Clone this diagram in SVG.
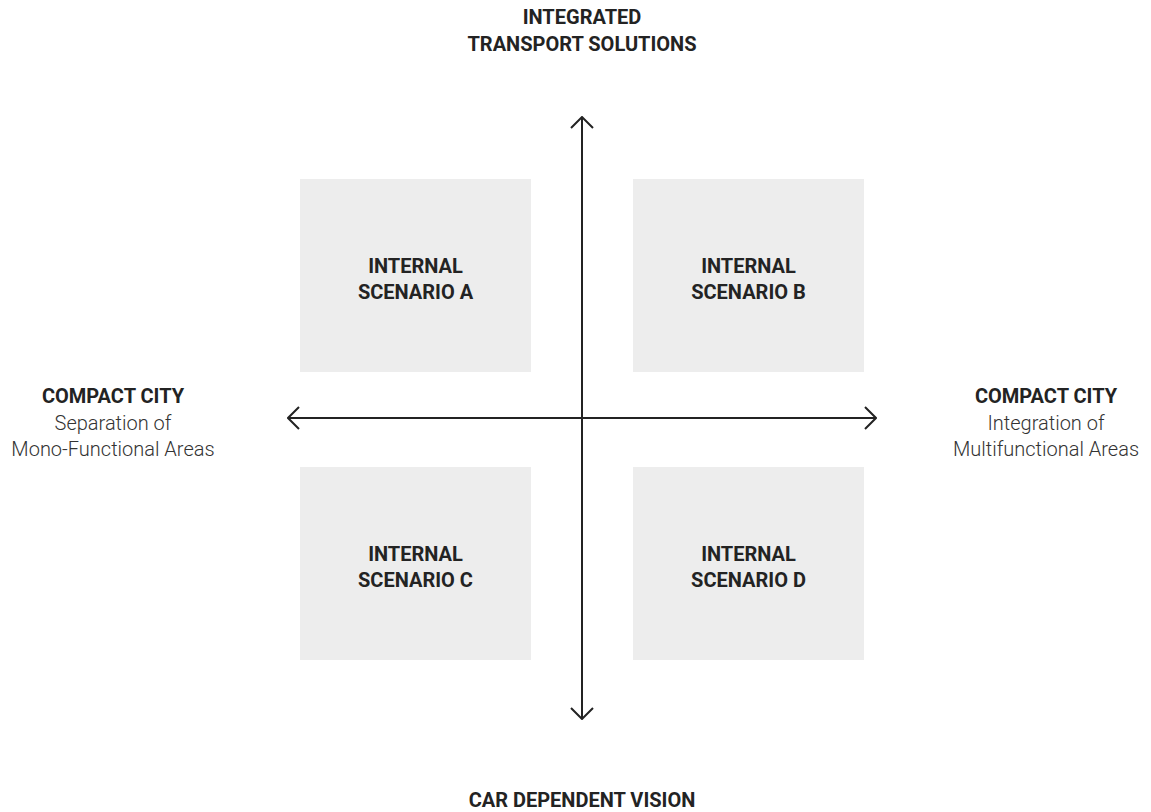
<svg xmlns="http://www.w3.org/2000/svg" width="1151" height="812" viewBox="0 0 1151 812">
<style>
.box{fill:#ededed}
.b{font-family:Roboto,"Liberation Sans",sans-serif;font-weight:700;font-size:20px;fill:#232323;text-anchor:middle}
.r{font-family:Roboto,"Liberation Sans",sans-serif;font-weight:300;font-size:20px;fill:#333333;text-anchor:middle}
.ax{stroke:#232323;stroke-width:2;fill:none}
</style>
<defs>
<marker id="arr" viewBox="0 0 20 24" refX="18" refY="12" markerWidth="20" markerHeight="24" markerUnits="userSpaceOnUse" orient="auto-start-reverse">
<path d="M8 1 L19 12 L8 23" fill="none" stroke="#232323" stroke-width="2"/>
</marker>
</defs>
<rect width="1151" height="812" fill="#fff"/>
<g id="connectors">
<line class="ax" x1="582" y1="718" x2="582" y2="118" marker-start="url(#arr)" marker-end="url(#arr)"/>
<line class="ax" x1="289" y1="418" x2="875" y2="418" marker-start="url(#arr)" marker-end="url(#arr)"/>
</g>
<g id="scenario-a"><rect class="box" x="300" y="179" width="231" height="193"/><text class="b" x="415.5" y="273">INTERNAL</text><text class="b" x="415.5" y="299">SCENARIO A</text></g>
<g id="scenario-b"><rect class="box" x="633" y="179" width="231" height="193"/><text class="b" x="748.5" y="273">INTERNAL</text><text class="b" x="748.5" y="299">SCENARIO B</text></g>
<g id="scenario-c"><rect class="box" x="300" y="467" width="231" height="193"/><text class="b" x="415.5" y="561">INTERNAL</text><text class="b" x="415.5" y="587">SCENARIO C</text></g>
<g id="scenario-d"><rect class="box" x="633" y="467" width="231" height="193"/><text class="b" x="748.5" y="561">INTERNAL</text><text class="b" x="748.5" y="587">SCENARIO D</text></g>
<g id="top-label"><text class="b" x="582" y="24">INTEGRATED</text><text class="b" x="582" y="51">TRANSPORT SOLUTIONS</text></g>
<g id="bottom-label"><text class="b" x="582" y="807">CAR DEPENDENT VISION</text></g>
<g id="left-label"><text class="b" x="113" y="403">COMPACT CITY</text><text class="r" x="113" y="430">Separation of</text><text class="r" x="113" y="456">Mono-Functional Areas</text></g>
<g id="right-label"><text class="b" x="1046" y="403">COMPACT CITY</text><text class="r" x="1046" y="430">Integration of</text><text class="r" x="1046" y="456">Multifunctional Areas</text></g>
</svg>
